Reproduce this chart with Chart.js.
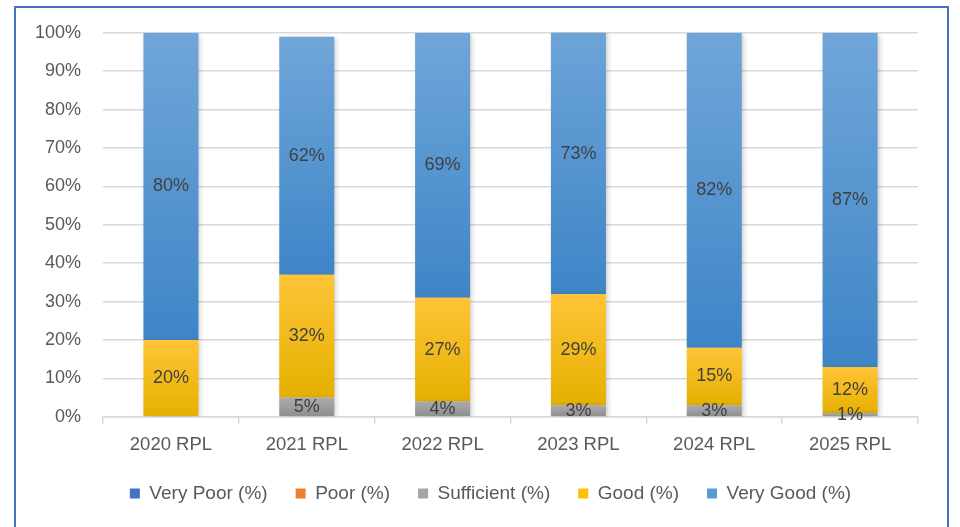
<!DOCTYPE html>
<html>
<head>
<meta charset="utf-8">
<script src="https://cdn.jsdelivr.net/npm/chart.js@4"></script>
<style>
  html, body { margin: 0; padding: 0; background: #fff; }
  #wrap { position: relative; width: 960px; height: 527px; overflow: hidden; }
  #frame { position: absolute; left: 14px; top: 6px; width: 935px; height: 540px; border: 2px solid #4472C4; box-sizing: border-box; }
  #chart { position: absolute; left: 0; top: 0; }
</style>
</head>
<body>
<div id="wrap">
  <div id="frame"></div>
  <canvas id="chart" width="960" height="527"></canvas>
</div>
<script>
var categories = ["2020 RPL", "2021 RPL", "2022 RPL", "2023 RPL", "2024 RPL", "2025 RPL"];
var veryPoor   = [0, 0, 0, 0, 0, 0];
var poor       = [0, 0, 0, 0, 0, 0];
var sufficient = [0, 5, 4, 3, 3, 1];
var good       = [20, 32, 27, 29, 15, 12];
var veryGood   = [80, 62, 69, 73, 82, 87];
var yTicks = [0, 10, 20, 30, 40, 50, 60, 70, 80, 90, 100];

var seriesData = [veryPoor, poor, sufficient, good, veryGood];
var FONT = '"Liberation Sans", Arial, sans-serif';

// gradient for each stacked segment: lighter on top, darker at the bottom
function segGradient(top, bottom) {
    return function (c) {
        var chart = c.chart;
        var y = chart.scales.y;
        if (!y || !chart.chartArea || c.dataIndex === undefined) return bottom;
        var base = 0;
        for (var d = 0; d < c.datasetIndex; d++) base += seriesData[d][c.dataIndex];
        var v = seriesData[c.datasetIndex][c.dataIndex];
        var y0 = y.getPixelForValue(base + v);
        var y1 = y.getPixelForValue(base);
        if (!isFinite(y0) || !isFinite(y1) || y0 === y1) return bottom;
        var g = chart.ctx.createLinearGradient(0, y0, 0, y1);
        g.addColorStop(0, top);
        g.addColorStop(1, bottom);
        return g;
    };
}

var labelPlugin = {
    id: 'segLabels',
    afterDatasetsDraw: function (chart) {
        var ctx = chart.ctx;
        var y = chart.scales.y;
        ctx.save();
        ctx.font = '18px ' + FONT;
        ctx.fillStyle = '#404040';
        ctx.textAlign = 'center';
        ctx.textBaseline = 'middle';
        chart.data.datasets.forEach(function (ds, di) {
            var meta = chart.getDatasetMeta(di);
            meta.data.forEach(function (bar, i) {
                var v = seriesData[di][i];
                if (!v) return;
                var base = 0;
                for (var d = 0; d < di; d++) base += seriesData[d][i];
                var cy = y.getPixelForValue(base + v / 2);
                ctx.fillText(v + '%', bar.x, cy);
            });
        });
        ctx.restore();
    }
};

var shadowPlugin = {
    id: 'barShadow',
    beforeDatasetsDraw: function (chart) {
        var ctx = chart.ctx;
        ctx.save();
        ctx.shadowColor = 'rgba(0,0,0,0.22)';
        ctx.shadowBlur = 5;
        ctx.shadowOffsetX = 2;
        ctx.shadowOffsetY = 1;
    },
    afterDatasetsDraw: function (chart) {
        chart.ctx.restore();
    }
};

// legend sits a little right of the plot centre in the original
var legendShift = {
    id: 'legendShift',
    afterLayout: function (chart) {
        if (chart.legend) {
            chart.legend.left += 25;
            chart.legend.right += 25;
        }
    }
};

var ctx = document.getElementById('chart').getContext('2d');
var chart = new Chart(ctx, {
    type: 'bar',
    data: {
        labels: categories,
        datasets: [
            { label: 'Very Poor (%)', data: veryPoor, backgroundColor: '#4472C4' },
            { label: 'Poor (%)', data: poor, backgroundColor: '#ED7D31' },
            { label: 'Sufficient (%)', data: sufficient, backgroundColor: segGradient('#ABABAB', '#8E8E8E') },
            { label: 'Good (%)', data: good, backgroundColor: segGradient('#FFC437', '#E5B000') },
            { label: 'Very Good (%)', data: veryGood, backgroundColor: segGradient('#70A6D9', '#3E85C7') }
        ]
    },
    options: {
        responsive: false,
        animation: false,
        layout: { padding: { left: 13, right: 42, top: 24, bottom: 14 } },
        datasets: {
            bar: { categoryPercentage: 1, barPercentage: 0.405, borderWidth: 0 }
        },
        plugins: {
            legend: {
                position: 'bottom',
                labels: {
                    boxWidth: 10,
                    boxHeight: 10,
                    padding: 28,
                    color: '#595959',
                    font: { family: FONT, size: 19 },
                    generateLabels: function (chart) {
                        var fills = ['#4472C4', '#ED7D31', '#A5A5A5', '#FFC000', '#5B9BD5'];
                        return chart.data.datasets.map(function (ds, i) {
                            return { text: ds.label, fillStyle: fills[i], strokeStyle: fills[i], lineWidth: 0, datasetIndex: i, fontColor: '#595959' };
                        });
                    }
                }
            },
            tooltip: { enabled: false }
        },
        scales: {
            x: {
                stacked: true,
                grid: { offset: true, drawOnChartArea: false, drawTicks: true, tickLength: 7, color: '#D9D9D9', lineWidth: 1.5 },
                border: { color: '#D9D9D9', width: 1.5 },
                ticks: {
                    color: '#595959',
                    padding: 10,
                    font: { family: FONT, size: 18.5 }
                },
                afterFit: function (axis) { axis.height -= 10; }
            },
            y: {
                stacked: true,
                min: 0,
                max: 100,
                afterBuildTicks: function (axis) {
                    axis.ticks = yTicks.map(function (v) { return { value: v }; });
                },
                grid: { color: '#D9D9D9', lineWidth: 1.5, drawTicks: false },
                border: { display: false },
                ticks: {
                    color: '#595959',
                    padding: 22,
                    font: { family: FONT, size: 18 },
                    callback: function (v) { return v + '%'; }
                }
            }
        }
    },
    plugins: [shadowPlugin, labelPlugin, legendShift]
});
</script>
</body>
</html>
